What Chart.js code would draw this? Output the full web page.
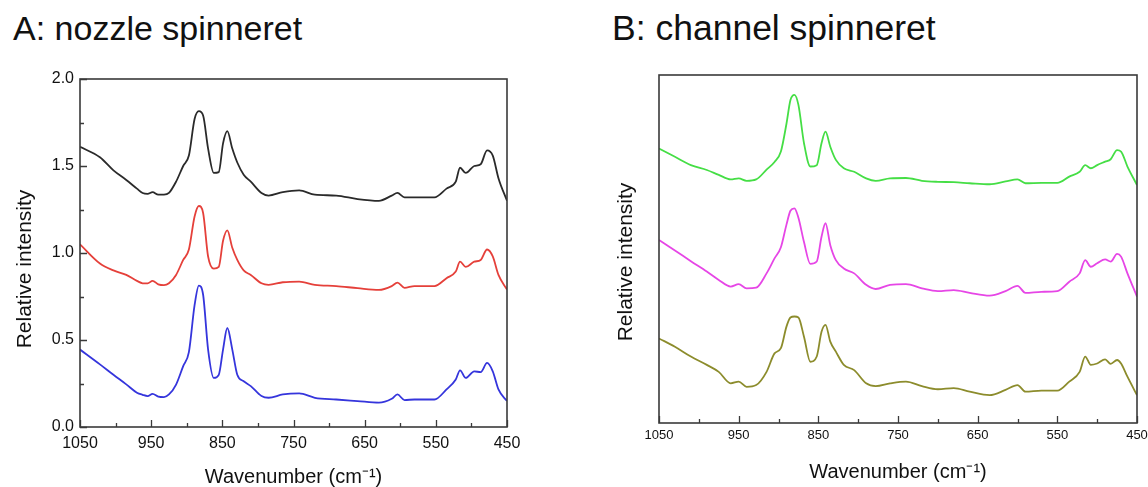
<!DOCTYPE html>
<html>
<head>
<meta charset="utf-8">
<script src="https://cdn.jsdelivr.net/npm/chart.js@4.4.1/dist/chart.umd.min.js"></script>
<style>
  html, body { margin:0; padding:0; background:#fff; }
  body { width:1148px; height:487px; position:relative; overflow:hidden; font-family:"Liberation Sans", Arial, sans-serif; }
  .ttl { position:absolute; top:11px; font-size:34px; line-height:34px; color:#111; white-space:nowrap; }
  .cv { position:absolute; top:0; }
</style>
</head>
<body>
<div class="ttl" style="left:13px">A: nozzle spinneret</div>
<div class="ttl" style="left:612px;font-size:35.5px">B: channel spinneret</div>
<canvas id="cA" class="cv" width="580" height="487" style="left:0px"></canvas>
<canvas id="cB" class="cv" width="558" height="487" style="left:590px"></canvas>
<script>
// ---------- Data ----------
const panelTitles = ["A: nozzle spinneret", "B: channel spinneret"];
const xTitle = "Wavenumber (cm\u207B\u00B9)";
const yTitle = "Relative intensity";
const yTickLabelsA = ["0.0", "0.5", "1.0", "1.5", "2.0"];

// Panel A wavenumbers (cm-1)
const wavenumbersA = [1050,1022,1003,985,970, 962,955,948,940,932, 925,915,905,897,889, 883,877,870,862,855,
  849,843,836,829,820, 810,795,785,765,742, 720,690,660,630,612, 604,594,580,552,535, 522,516,508,496,487, 478,470,462,450];
const seriesBlack = [1.61,1.55,1.475,1.42,1.37, 1.345,1.34,1.35,1.335,1.335, 1.345,1.41,1.50,1.56,1.77, 1.815,1.79,1.60,1.46,1.465,
  1.63,1.70,1.60,1.52,1.45, 1.41,1.345,1.33,1.35,1.36, 1.335,1.33,1.31,1.30,1.33, 1.345,1.32,1.32,1.32,1.37, 1.41,1.49,1.46,1.50,1.51, 1.59,1.56,1.43,1.30];
const seriesRed = [1.05,0.94,0.90,0.874,0.84, 0.826,0.825,0.84,0.82,0.815, 0.826,0.874,0.96,1.02,1.21, 1.27,1.23,0.98,0.91,0.92,
  1.07,1.13,1.03,0.96,0.90, 0.874,0.826,0.817,0.832,0.836, 0.817,0.81,0.798,0.788,0.81, 0.83,0.80,0.81,0.81,0.855, 0.893,0.95,0.92,0.95,0.96, 1.02,0.98,0.874,0.79];
const seriesBlue = [0.445,0.36,0.30,0.245,0.197, 0.185,0.178,0.19,0.175,0.172, 0.187,0.244,0.35,0.43,0.70, 0.813,0.76,0.445,0.282,0.30,
  0.445,0.569,0.445,0.30,0.263, 0.235,0.178,0.168,0.187,0.193, 0.168,0.158,0.149,0.14,0.162, 0.187,0.155,0.158,0.158,0.216, 0.273,0.326,0.282,0.32,0.315, 0.368,0.32,0.216,0.149];

// Panel B wavenumbers (cm-1), arbitrary intensity units (0-100)
const wavenumbersB = [1050,1030,1010,990,975, 960,950,940,928,915, 905,897,890,885,880, 875,868,860,852,846,
  841,835,828,818,805, 790,778,760,740,720, 700,680,660,635,615, 600,590,570,550,535, 522,515,508,500,490, 483,475,470,462,450];
const seriesGreen = [78.9,76.5,74.1,72.7,71.3, 70.0,70.3,69.6,70.0,72.8, 75.0,78.0,86.0,92.8,94.3, 91.4,80.4,73.7,74.1,80.4,
  83.7,79.4,75.6,73.2,72.2, 70.3,69.6,70.3,70.4,69.6, 69.3,69.2,68.9,68.6,69.4, 70.0,68.9,69.0,69.0,70.8, 72.2,74.1,73.2,74.1,75.1, 75.8,78.4,78.0,73.7,68.4];
const seriesMagenta = [52.6,49.6,46.5,43.5,41.1, 39.2,39.9,38.7,38.9,43.0, 47.3,50.5,57.0,61.0,61.7, 59.0,52.0,45.7,46.4,53.5,
  57.4,51.1,46.8,44.4,43.0, 39.7,38.5,39.7,39.9,38.7, 37.9,38.2,37.4,36.6,37.9, 39.4,37.4,37.7,37.9,40.6, 43.0,46.8,44.9,45.9,47.0, 46.4,48.6,47.8,43.0,36.3];
const seriesOlive = [24.3,21.9,19.1,16.7,14.7, 11.4,11.9,10.4,10.9,14.7, 20.0,21.5,27.7,30.3,30.6, 30.3,24.8,17.6,19.1,26.2,
  28.2,23.4,20.5,16.7,15.2, 11.4,10.6,11.4,11.9,10.6, 9.7,10.0,9.0,8.0,9.5, 10.9,9.0,9.3,9.3,11.9, 14.7,19.1,16.7,17.1,18.3, 17.0,18.1,17.1,13.3,8.0];

// ---------- Helpers ----------
const FONT = "'Liberation Sans', Arial, sans-serif";
const toPts = (xs, ys) => xs.map((x, i) => ({x, y: ys[i]}));
const ds = (data, color) => ({ data, borderColor: color, borderWidth: 1.8, pointRadius: 0,
  cubicInterpolationMode: 'monotone', fill: false });

const frameTicks = {
  id: 'frameTicks',
  beforeDraw(chart, args, opts) {
    // move the y-axis title slightly below the plot centre, as in the original figure
    const y = chart.scales.y;
    if (opts.yTitleShift) y.bottom = chart.chartArea.bottom + 2 * opts.yTitleShift;
  },
  afterDatasetsDraw(chart, args, opts) {
    const {ctx, chartArea: a, scales: {x, y}} = chart;
    ctx.save();
    ctx.strokeStyle = '#3a3a3a';
    ctx.lineWidth = 1.3;
    ctx.beginPath();
    for (let v = 450; v <= 1050; v += 50) {
      const px = Math.round(x.getPixelForValue(v)) + 0.5;
      const major = ((1050 - v) % 100) === 0;
      ctx.moveTo(px, a.bottom);
      ctx.lineTo(px, a.bottom - (major ? 7 : 4));
    }
    if (opts.yTicks) {
      for (let v = 0; v <= 2.0001; v += 0.25) {
        const py = Math.round(y.getPixelForValue(v)) + 0.5;
        const major = Math.abs((v / 0.5) - Math.round(v / 0.5)) < 1e-6;
        ctx.moveTo(a.left, py);
        ctx.lineTo(a.left + (major ? 7 : 4), py);
      }
    }
    ctx.stroke();
    ctx.lineWidth = 1.6;
    ctx.strokeRect(a.left, a.top, a.right - a.left, a.bottom - a.top);
    ctx.restore();
  }
};

function xAxis(fontSize, labelPad, height, titlePadBottom) {
  return {
    type: 'linear', min: 450, max: 1050, reverse: true,
    grid: { display: false, drawTicks: false },
    border: { display: false },
    ticks: { stepSize: 50, autoSkip: false, maxRotation: 0, padding: labelPad, color: '#111',
      font: { family: FONT, size: fontSize },
      callback: (v) => (((1050 - v) % 100) === 0 ? String(v) : '') },
    title: { display: true, text: xTitle, color: '#111', font: { family: FONT, size: 20 },
      padding: { top: 0, bottom: titlePadBottom } },
    afterFit: (s) => { s.height = height; s.paddingLeft = 0; s.paddingRight = 0; }
  };
}

// ---------- Chart A ----------
new Chart(document.getElementById('cA'), {
  type: 'line',
  data: { datasets: [
    ds(toPts(wavenumbersA, seriesBlack), '#2a2a2a'),
    ds(toPts(wavenumbersA, seriesRed), '#e5403a'),
    ds(toPts(wavenumbersA, seriesBlue), '#3535dc')
  ]},
  options: {
    responsive: false, animation: false,
    layout: { padding: { top: 79, right: 73, left: 0, bottom: 0 } },
    plugins: { legend: { display: false }, tooltip: { enabled: false }, frameTicks: { yTicks: true, yTitleShift: 16 } },
    scales: {
      x: xAxis(16, 7, 60, -2),
      y: {
        min: 0, max: 2,
        grid: { display: false, drawTicks: false },
        border: { display: false },
        ticks: { stepSize: 0.5, padding: 6, color: '#111', font: { family: FONT, size: 16 },
          callback: (v) => { const i = Math.round(v / 0.5); return yTickLabelsA[i]; } },
        title: { display: true, text: yTitle, color: '#111', font: { family: FONT, size: 21 }, padding: { top: 13, bottom: 0 } },
        afterFit: (s) => { s.width = 80; }
      }
    }
  },
  plugins: [frameTicks]
});

// ---------- Chart B ----------
new Chart(document.getElementById('cB'), {
  type: 'line',
  data: { datasets: [
    ds(toPts(wavenumbersB, seriesGreen), '#45de45'),
    ds(toPts(wavenumbersB, seriesMagenta), '#e646e6'),
    ds(toPts(wavenumbersB, seriesOlive), '#8c8c2c')
  ]},
  options: {
    responsive: false, animation: false,
    layout: { padding: { top: 75, right: 11, left: 0, bottom: 0 } },
    plugins: { legend: { display: false }, tooltip: { enabled: false }, frameTicks: { yTicks: false, yTitleShift: 13 } },
    scales: {
      x: xAxis(13, 5, 64, 3),
      y: {
        min: 0, max: 100,
        grid: { display: false, drawTicks: false },
        border: { display: false },
        ticks: { display: false },
        title: { display: true, text: yTitle, color: '#111', font: { family: FONT, size: 21 }, padding: { top: 24, bottom: 0 } },
        afterFit: (s) => { s.width = 69; }
      }
    }
  },
  plugins: [frameTicks]
});
</script>
</body>
</html>
